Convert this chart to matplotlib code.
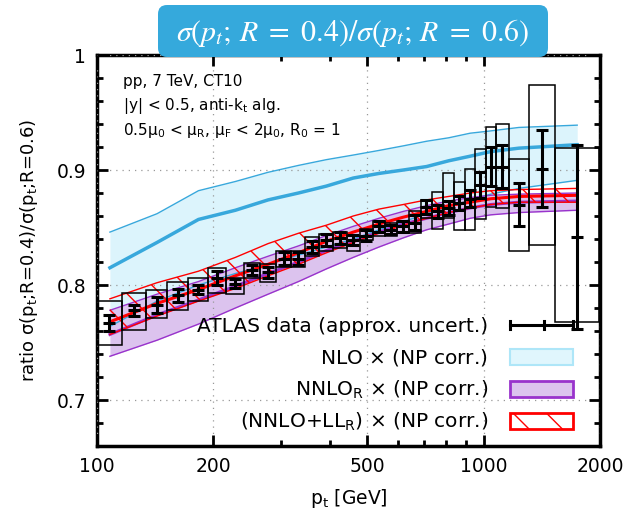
import matplotlib
matplotlib.use("Agg")
import matplotlib.pyplot as plt
import numpy as np
from matplotlib.patches import Rectangle, FancyBboxPatch
from matplotlib.ticker import FixedLocator, NullFormatter

# ATLAS bins (pt in GeV)
pt_lo = [100, 116, 134, 152, 172, 194, 216, 240, 264, 290, 318, 346, 376, 408, 442,
         478, 516, 556, 598, 642, 688, 736, 786, 838, 894, 952, 1012, 1076, 1162, 1310, 1530]
pt_hi = pt_lo[1:] + [1992]

ratio = [0.767, 0.778, 0.783, 0.791, 0.796, 0.806, 0.801, 0.813, 0.811, 0.823, 0.823,
         0.833, 0.839, 0.841, 0.839, 0.843, 0.851, 0.848, 0.851, 0.854, 0.868, 0.864,
         0.867, 0.871, 0.875, 0.887, 0.903, 0.903, 0.870, 0.901, 0.842]
stat = [0.007, 0.005, 0.007, 0.0055, 0.004, 0.006, 0.004, 0.004, 0.0045, 0.006, 0.006,
        0.0055, 0.005, 0.005, 0.0045, 0.0045, 0.005, 0.004, 0.005, 0.0065, 0.006, 0.006,
        0.006, 0.006, 0.0075, 0.0115, 0.017, 0.019, 0.019, 0.0335, 0.080]
sys_lo = [0.748, 0.761, 0.771, 0.778, 0.786, 0.793, 0.792, 0.806, 0.803, 0.816, 0.816,
          0.825, 0.830, 0.832, 0.830, 0.839, 0.843, 0.843, 0.845, 0.845, 0.858, 0.849,
          0.858, 0.848, 0.848, 0.857, 0.868, 0.867, 0.830, 0.835, 0.768]
sys_hi = [0.786, 0.793, 0.796, 0.803, 0.806, 0.815, 0.806, 0.819, 0.818, 0.830, 0.830,
          0.842, 0.844, 0.846, 0.843, 0.849, 0.856, 0.854, 0.856, 0.864, 0.874, 0.881,
          0.897, 0.890, 0.901, 0.918, 0.937, 0.940, 0.910, 0.974, 0.919]

# theory curves
th_pt = [108, 143, 183, 228, 277, 332, 392, 460, 536, 620, 712, 812, 923, 1043, 1234, 1746]
nlo_c = [0.815, 0.837, 0.857, 0.865, 0.874, 0.880, 0.886, 0.893, 0.897, 0.900, 0.903,
         0.908, 0.912, 0.916, 0.919, 0.922]
nlo_hi = [0.846, 0.862, 0.882, 0.890, 0.898, 0.904, 0.909, 0.913, 0.917, 0.921, 0.925,
          0.928, 0.932, 0.934, 0.937, 0.939]
nlo_lo = [0.764, 0.786, 0.800, 0.810, 0.818, 0.826, 0.833, 0.840, 0.848, 0.855, 0.862,
          0.868, 0.874, 0.879, 0.884, 0.891]
nnlo_c = [0.757, 0.774, 0.787, 0.799, 0.810, 0.820, 0.830, 0.838, 0.846, 0.853, 0.858,
          0.863, 0.867, 0.870, 0.872, 0.873]
nnlo_hi = [0.778, 0.792, 0.803, 0.815, 0.825, 0.834, 0.843, 0.851, 0.858, 0.864, 0.869,
           0.873, 0.876, 0.878, 0.879, 0.880]
nnlo_lo = [0.738, 0.752, 0.766, 0.780, 0.792, 0.803, 0.814, 0.824, 0.833, 0.841, 0.848,
           0.853, 0.858, 0.861, 0.863, 0.865]
ll_c = [0.768, 0.784, 0.796, 0.808, 0.818, 0.828, 0.838, 0.846, 0.853, 0.859, 0.864,
        0.869, 0.872, 0.875, 0.877, 0.878]
ll_hi = [0.788, 0.802, 0.812, 0.824, 0.836, 0.845, 0.852, 0.860, 0.866, 0.870, 0.874,
         0.877, 0.880, 0.882, 0.883, 0.884]
ll_lo = [0.757, 0.773, 0.786, 0.797, 0.808, 0.818, 0.828, 0.837, 0.845, 0.852, 0.858,
         0.863, 0.867, 0.870, 0.872, 0.872]

legend_labels = ["ATLAS data (approx. uncert.)",
                 r"NLO $\times$ (NP corr.)",
                 r"NNLO$_\mathregular{R}$ $\times$ (NP corr.)",
                 r"(NNLO+LL$_\mathregular{R}$) $\times$ (NP corr.)"]

c_nlo = "#38a8dc"
c_nlo_fill = "#dcf4fc"
c_pur = "#9933cc"
c_pur_fill = "#dcc3ee"
c_red = "#ff0000"

fig = plt.figure(figsize=(6.31, 5.19), dpi=100)
ax = fig.add_axes([97 / 631, 1 - 446 / 519, 503 / 631, 391 / 519])

# NLO band
ax.fill_between(th_pt, nlo_lo, nlo_hi, color=c_nlo_fill, lw=0, zorder=1)
# NNLO_R band
ax.fill_between(th_pt, nnlo_lo, nnlo_hi, color=c_pur_fill, lw=0, zorder=2)
ax.plot(th_pt, nlo_lo, color=c_nlo, lw=1, zorder=3)
ax.plot(th_pt, nlo_hi, color=c_nlo, lw=1, zorder=3)
ax.plot(th_pt, nlo_c, color=c_nlo, lw=2.5, zorder=3)
ax.plot(th_pt, nnlo_lo, color=c_pur, lw=1, zorder=3)
ax.plot(th_pt, nnlo_hi, color=c_pur, lw=1, zorder=3)
ax.plot(th_pt, nnlo_c, color=c_pur, lw=2.2, zorder=3)
# NNLO+LL_R band (hatched)
plt.rcParams['hatch.linewidth'] = 1.0
ax.fill_between(th_pt, ll_lo, ll_hi, facecolor="none", edgecolor=c_red, hatch="\\",
                lw=0, zorder=4)
ax.plot(th_pt, ll_lo, color=c_red, lw=1, zorder=4)
ax.plot(th_pt, ll_hi, color=c_red, lw=1, zorder=4)
ax.plot(th_pt, ll_c, color=c_red, lw=2.2, zorder=4)

# data: boxes and error bars
pt_lo_a = np.array(pt_lo)
pt_hi_a = np.array(pt_hi)
pt_c = np.sqrt(pt_lo_a * pt_hi_a)
ax.bar(pt_lo_a, np.array(sys_hi) - np.array(sys_lo), width=pt_hi_a - pt_lo_a,
       bottom=sys_lo, align="edge", fill=False, edgecolor="black", lw=1.1, zorder=5)
ax.errorbar(pt_c, ratio, yerr=stat, fmt="_", color="black", ms=8, mew=2.2,
            elinewidth=2.2, capsize=4, capthick=2.2, zorder=6)

ax.set_xscale("log")
ax.set_xlim(100, 2000)
ax.set_ylim(0.66, 1.0)
ax.xaxis.set_major_locator(FixedLocator([100, 200, 500, 1000, 2000]))
ax.xaxis.set_minor_locator(FixedLocator([300, 400, 600, 700, 800, 900]))
ax.xaxis.set_minor_formatter(NullFormatter())
ax.set_xticklabels(["100", "200", "500", "1000", "2000"])
ax.set_yticks([0.7, 0.8, 0.9, 1.0])
ax.set_yticklabels(["0.7", "0.8", "0.9", "1"])
ax.yaxis.set_minor_locator(FixedLocator(np.arange(0.66, 1.0, 0.02)))
ax.tick_params(which="both", direction="in", top=True, right=True, width=2,
               labelsize=13.5, pad=8)
ax.tick_params(which="major", length=8)
ax.tick_params(which="minor", length=4)
for s in ax.spines.values():
    s.set_linewidth(2.5)
ax.grid(True, which="major", ls=(0, (1, 4)), color="#999999", lw=0.9)
ax.set_axisbelow(False)
for gl in ax.get_xgridlines() + ax.get_ygridlines():
    gl.set_zorder(0.5)

ax.set_xlabel(r"p$_\mathregular{t}$ [GeV]", fontsize=13.5, labelpad=8)
ax.set_ylabel(r"ratio σ(p$_\mathregular{t}$;R=0.4)/σ(p$_\mathregular{t}$;R=0.6)",
              fontsize=13, labelpad=12)

# annotations
ax.text(0.052, 0.921, "pp, 7 TeV, CT10", transform=ax.transAxes, fontsize=11)
ax.text(0.052, 0.859, r"|y| < 0.5, anti-k$_\mathregular{t}$ alg.", transform=ax.transAxes,
        fontsize=11)
ax.text(0.052, 0.795,
        r"0.5μ$_\mathregular{0}$ < μ$_\mathregular{R}$, μ$_\mathregular{F}$ < 2μ$_\mathregular{0}$, R$_\mathregular{0}$ = 1",
        transform=ax.transAxes, fontsize=11)

# legend (drawn by hand, right-aligned text)
base_y = [0.292, 0.210, 0.129, 0.048]
samp_y = [0.309, 0.228, 0.146, 0.064]
for lab, by in zip(legend_labels, base_y):
    ax.text(0.777, by, lab, transform=ax.transAxes, ha="right", va="baseline",
            fontsize=14.5, zorder=8)
x0, x1, h = 0.821, 0.946, 0.042
xm = 0.888
ax.plot([x0, x1], [samp_y[0]] * 2, transform=ax.transAxes, color="black", lw=2.2,
        zorder=8, clip_on=False)
for xx in [x0, xm, x1]:
    ax.plot([xx, xx], [samp_y[0] - 0.01, samp_y[0] + 0.01], transform=ax.transAxes,
            color="black", lw=2.2, zorder=8, clip_on=False)
ax.add_patch(Rectangle((x0, samp_y[1] - h / 2), x1 - x0, h, transform=ax.transAxes,
                       facecolor="#e0f6fd", edgecolor="#aee6f8", lw=1.5, zorder=8))
ax.add_patch(Rectangle((x0, samp_y[2] - h / 2), x1 - x0, h, transform=ax.transAxes,
                       facecolor=c_pur_fill, edgecolor=c_pur, lw=2, zorder=8))
ax.add_patch(Rectangle((x0, samp_y[3] - h / 2), x1 - x0, h, transform=ax.transAxes,
                       facecolor="white", edgecolor=c_red, lw=2, hatch="\\", zorder=8))

# title box
box = FancyBboxPatch((1.58, (519 - 57) / 100), 3.90, 0.52,
                     boxstyle="round,pad=0,rounding_size=0.09",
                     transform=fig.dpi_scale_trans, facecolor="#35a9dc",
                     edgecolor="none", zorder=5)
fig.add_artist(box)
fig.text(353 / 631, 1 - 33 / 519,
         r"$\sigma(p_t;\,R\ =\ 0.4)/\sigma(p_t;\,R\ =\ 0.6)$",
         color="white", fontsize=21.5, ha="center", va="center",
         math_fontfamily="stix", zorder=6)

fig.savefig("out.png", dpi=100)
